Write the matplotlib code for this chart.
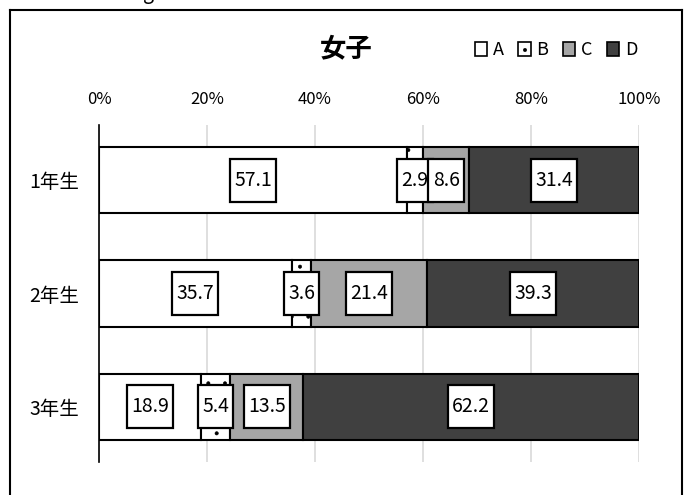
import matplotlib.pyplot as plt
from matplotlib.patches import Patch
from matplotlib.lines import Line2D
from matplotlib.path import Path
import numpy as np

plt.rcParams['font.family'] = ['Noto Sans CJK JP', 'DejaVu Sans']
plt.rcParams['hatch.linewidth'] = 0.4

# data
grades = ['1年生', '2年生', '3年生']
series_names = ['A', 'B', 'C', 'D']
val_a = [57.1, 35.7, 18.9]
val_b = [2.9, 3.6, 5.4]
val_c = [8.6, 21.4, 13.5]
val_d = [31.4, 39.3, 62.2]
tick_vals = [0, 20, 40, 60, 80, 100]

colors = ['#ffffff', '#ffffff', '#a6a6a6', '#404040']
hatches = [None, '.', None, None]


def label_box(x0, y0, width, height, mutation_size):
    # tall, narrow box like the Excel data labels
    px = 0.22 * mutation_size
    py = 0.55 * mutation_size
    x0, y0 = x0 - px, y0 - py
    x1, y1 = x0 + width + 2 * px, y0 + height + 2 * py
    return Path([(x0, y0), (x1, y0), (x1, y1), (x0, y1), (x0, y0)], closed=True)


fig = plt.figure(figsize=(6.86, 4.95), dpi=100)
ax = fig.add_axes([99 / 686, 33 / 495, 540 / 686, 337 / 495])

y = np.arange(len(grades))
left = np.zeros(len(grades))
for k, (vals, col, hat) in enumerate(zip([val_a, val_b, val_c, val_d], colors, hatches)):
    ax.barh(y, vals, left=left, height=0.585, color=col, edgecolor='black',
            linewidth=1.5, hatch=hat, zorder=3)
    for yi, (l, v) in enumerate(zip(left, vals)):
        ax.text(l + v / 2, yi, f'{v:.1f}', ha='center', va='center', fontsize=14,
                zorder=5 + k,
                bbox=dict(boxstyle=label_box, facecolor='white',
                          edgecolor='black', linewidth=1.6))
    left = left + np.array(vals)

ax.set_xlim(0, 100)
ax.set_ylim(2.49, -0.49)
ax.set_xticks(tick_vals)
ax.set_xticklabels([f'{t}%' for t in tick_vals], fontsize=12)
ax.xaxis.tick_top()
ax.tick_params(axis='x', length=0, pad=12)
ax.set_yticks(y)
ax.set_yticklabels(grades, fontsize=14)
ax.tick_params(axis='y', length=0, pad=14)
ax.grid(axis='x', color='#d9d9d9', linewidth=1.2, zorder=0)
for s in ['top', 'right', 'bottom']:
    ax.spines[s].set_visible(False)
ax.spines['left'].set_linewidth(1.2)

fig.text(346 / 686, 1 - 49 / 495, '女子', ha='center', va='center',
         fontsize=19, fontweight='bold')

handles = [Patch(facecolor=c, edgecolor='black', hatch=h, linewidth=1.2)
           for c, h in zip(colors, hatches)]
fig.legend(handles, series_names, ncol=4, loc='center', frameon=False,
           bbox_to_anchor=(556 / 686, 1 - 50 / 495), fontsize=13,
           handlelength=0.7, handleheight=0.8, handletextpad=0.3,
           columnspacing=0.8)

# outer frame
fig.add_artist(Line2D([10 / 686, 682 / 686], [1 - 10 / 495, 1 - 10 / 495],
                      color='black', linewidth=1.5))
fig.add_artist(Line2D([10 / 686, 10 / 686], [0, 1 - 10 / 495],
                      color='black', linewidth=1.5))
fig.add_artist(Line2D([682 / 686, 682 / 686], [0, 1 - 10 / 495],
                      color='black', linewidth=1.5))
fig.text(148 / 686, 1 + 1 / 495, 'g', ha='center', va='baseline', fontsize=14)

fig.savefig('out.png', dpi=100)
